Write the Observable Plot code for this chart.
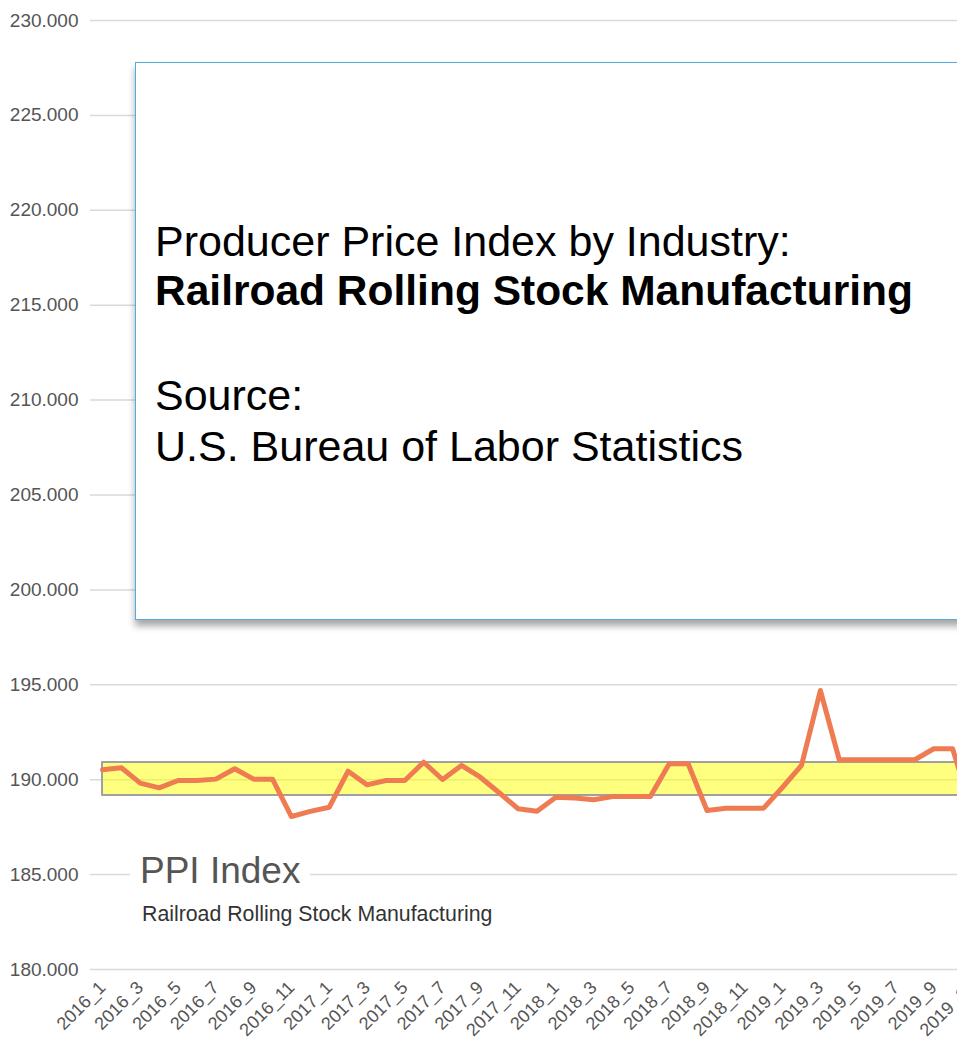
<!DOCTYPE html>
<html><head><meta charset="utf-8">
<script src="https://cdn.jsdelivr.net/npm/d3@7"></script>
<script src="https://cdn.jsdelivr.net/npm/@observablehq/plot@0.6"></script>
<style>
html,body{margin:0;padding:0;overflow:hidden;background:#fff;}
#wrap{position:relative;width:957px;height:1046px;overflow:hidden;font-family:"Liberation Sans",Arial,sans-serif;}
#chart{position:absolute;left:0;top:0;width:983px;height:1046px;}
#chart svg{max-width:none !important;width:983px;height:1046px;}
.ann{position:absolute;white-space:nowrap;line-height:1;}
#box{position:absolute;left:135px;top:62px;width:900px;height:558px;box-sizing:border-box;border:1.5px solid #55a9dc;background:#fff;box-shadow:0 6px 7px rgba(0,0,0,0.35);}
</style></head><body>
<div id="wrap">
  <div id="chart"></div>
  <div id="box"></div>
  <div class="ann" style="left:155px;top:219.7px;font-size:43px;color:#000;">Producer Price Index by Industry:</div>
  <div class="ann" style="left:155px;top:269.7px;font-size:42.5px;color:#000;font-weight:bold;">Railroad Rolling Stock Manufacturing</div>
  <div class="ann" style="left:155px;top:373.7px;font-size:43px;color:#000;">Source:</div>
  <div class="ann" style="left:155px;top:424.7px;font-size:43px;color:#000;">U.S. Bureau of Labor Statistics</div>
  <div class="ann" style="left:130px;top:852px;font-size:37px;color:#555;background:#fff;padding:0 10px 0 10px;">PPI Index</div>
  <div class="ann" style="left:142px;top:903.5px;font-size:21.3px;color:#333;">Railroad Rolling Stock Manufacturing</div>
</div>
<script>
const months = [
  "2016_1","2016_2","2016_3","2016_4","2016_5","2016_6","2016_7","2016_8","2016_9","2016_10","2016_11","2016_12",
  "2017_1","2017_2","2017_3","2017_4","2017_5","2017_6","2017_7","2017_8","2017_9","2017_10","2017_11","2017_12",
  "2018_1","2018_2","2018_3","2018_4","2018_5","2018_6","2018_7","2018_8","2018_9","2018_10","2018_11","2018_12",
  "2019_1","2019_2","2019_3","2019_4","2019_5","2019_6","2019_7","2019_8","2019_9","2019_10","2019_11"
];
const ppi = [
  190.52, 190.63, 189.82, 189.57, 189.96, 189.96, 190.03, 190.58, 190.03, 190.03, 188.06, 188.33,
  188.55, 190.45, 189.73, 189.96, 189.96, 190.92, 190.01, 190.75, 190.13, 189.31, 188.47, 188.34,
  189.08, 189.04, 188.94, 189.11, 189.11, 189.11, 190.84, 190.84, 188.38, 188.50, 188.50, 188.50,
  189.60, 190.75, 194.70, 191.05, 191.05, 191.05, 191.05, 191.05, 191.63, 191.63, 188.40
];
const bandLow = 189.17;
const bandHigh = 190.91;
const yTicks = [180, 185, 190, 195, 200, 205, 210, 215, 220, 225, 230];
const tickMonths = months.filter((d, i) => i % 2 === 0);
const data = months.map((m, i) => ({month: m, value: ppi[i]}));

const chart = Plot.plot({
  width: 983,
  height: 1046,
  marginTop: 20,
  marginBottom: 77,
  marginLeft: 90,
  marginRight: 0,
  style: {fontFamily: "'Liberation Sans', Arial, sans-serif", fontSize: "17px", color: "#555", background: "transparent", overflow: "visible", maxWidth: "none"},
  x: {type: "point", domain: months, padding: 0.635, label: null},
  y: {domain: [180, 230], label: null},
  marks: [
    Plot.gridY(yTicks, {stroke: "#d9d9d9", strokeOpacity: 1, strokeWidth: 1.5}),
    Plot.axisY(yTicks, {tickSize: 0, tickPadding: 12, tickFormat: d3.format(".3f"), fill: "#555", fontSize: 19, label: null}),
    Plot.axisX(tickMonths, {tickSize: 0, tickPadding: 15, tickRotate: -45, fill: "#555", fontSize: 18, label: null}),
    Plot.areaY(months, {x: d => d, y1: () => bandLow, y2: () => bandHigh, fill: "#ffff00", fillOpacity: 0.5, stroke: "#a0a0a0", strokeWidth: 2, curve: "linear"}),
    Plot.lineY(data, {x: "month", y: "value", stroke: "#ef7b52", strokeWidth: 5})
  ]
});
document.getElementById("chart").appendChild(chart);
</script>
</body></html>
